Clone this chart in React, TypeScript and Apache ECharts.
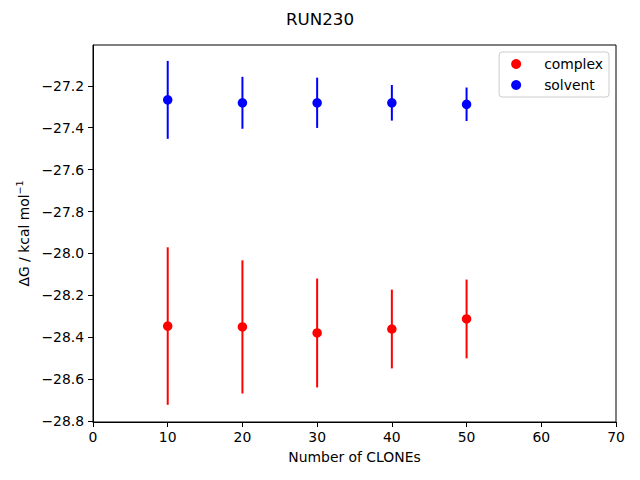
import React, { useEffect, useRef } from "react";
import * as echarts from "echarts";

const clones = [10, 20, 30, 40, 50];
const complexMean = [-28.347, -28.351, -28.38, -28.361, -28.313];
const complexErr = [0.376, 0.318, 0.26, 0.188, 0.188];
const solventMean = [-27.267, -27.281, -27.281, -27.281, -27.288];
const solventErr = [0.186, 0.124, 0.12, 0.085, 0.08];
const yTicks = [-28.8, -28.6, -28.4, -28.2, -28.0, -27.8, -27.6, -27.4, -27.2];

const FONT = "DejaVu Sans";

function errSeries(name: string, mean: number[], err: number[], color: string) {
  return {
    type: "custom",
    name: name + "-err",
    z: 2,
    data: clones.map((x, i) => [x, mean[i] - err[i], mean[i] + err[i]]),
    encode: { x: 0, y: [1, 2] },
    renderItem: (_p: any, api: any) => {
      const a = api.coord([api.value(0), api.value(1)]);
      const b = api.coord([api.value(0), api.value(2)]);
      return {
        type: "line",
        shape: { x1: a[0], y1: a[1], x2: b[0], y2: b[1] },
        style: { stroke: color, lineWidth: 2 },
      };
    },
  };
}

export default function App() {
  const ref = useRef<HTMLDivElement>(null);
  useEffect(() => {
    const chart = echarts.init(ref.current!, null, { renderer: "svg" });
    const minus = (s: string) => s.replace("-", "\u2212");
    chart.setOption({
      animation: false,
      backgroundColor: "#ffffff",
      title: {
        text: "RUN230",
        left: "center",
        top: 5,
        textStyle: { fontFamily: FONT, fontSize: 16.7, fontWeight: "normal", color: "#000" },
      },
      legend: {
        data: [
          { name: "complex", icon: "circle" },
          { name: "solvent", icon: "circle" },
        ],
        orient: "vertical",
        right: 31,
        top: 52,
        itemWidth: 10,
        itemHeight: 10,
        itemGap: 7,
        padding: [5, 6, 5, 12],
        borderColor: "#cccccc",
        borderWidth: 1,
        borderRadius: 3,
        backgroundColor: "#ffffff",
        textStyle: { fontFamily: FONT, fontSize: 13.9, color: "#000", padding: [0, 0, 0, 18] },
      },
      grid: {
        left: 93,
        right: 24,
        top: 45,
        bottom: 58,
        show: true,
        borderColor: "#000",
        borderWidth: 1,
      },
      xAxis: {
        type: "value",
        min: 0,
        max: 70,
        interval: 10,
        name: "Number of CLONEs",
        nameLocation: "middle",
        nameGap: 28,
        nameTextStyle: { fontFamily: FONT, fontSize: 13.9, color: "#000" },
        axisLine: { show: true, onZero: false, lineStyle: { color: "#000" } },
        axisTick: { show: true, length: 5, lineStyle: { color: "#000" } },
        axisLabel: { fontFamily: FONT, fontSize: 13.9, color: "#000", margin: 8 },
        splitLine: { show: false },
      },
      yAxis: {
        type: "value",
        min: -28.805,
        max: -27.005,
        name: "\u0394G / kcal mol{sup|\u22121}",
        nameLocation: "middle",
        nameRotate: 90,
        nameGap: 60,
        nameTextStyle: {
          fontFamily: FONT,
          fontSize: 13.9,
          color: "#000",
          rich: {
            sup: { fontFamily: FONT, fontSize: 9.5, color: "#000", verticalAlign: "top", padding: [0, 0, 8, 0] },
          },
        },
        axisLine: { show: true, onZero: false, lineStyle: { color: "#000" } },
        axisTick: { show: true, length: 5, customValues: yTicks, lineStyle: { color: "#000" } },
        axisLabel: {
          fontFamily: FONT,
          fontSize: 13.9,
          color: "#000",
          margin: 9,
          customValues: yTicks,
          formatter: (v: number) => minus(v.toFixed(1)),
        },
        splitLine: { show: false },
      },
      series: [
        errSeries("complex", complexMean, complexErr, "#ff0000"),
        errSeries("solvent", solventMean, solventErr, "#0000ff"),
        {
          type: "scatter",
          name: "complex",
          z: 3,
          symbolSize: 9.5,
          itemStyle: { color: "#ff0000", opacity: 1 },
          data: clones.map((x, i) => [x, complexMean[i]]),
        },
        {
          type: "scatter",
          name: "solvent",
          z: 3,
          symbolSize: 9.5,
          itemStyle: { color: "#0000ff", opacity: 1 },
          data: clones.map((x, i) => [x, solventMean[i]]),
        },
      ],
    });
    return () => chart.dispose();
  }, []);
  return (
    <div
      ref={ref}
      style={{ position: "fixed", left: 0, top: 0, width: 640, height: 480 }}
    />
  );
}
